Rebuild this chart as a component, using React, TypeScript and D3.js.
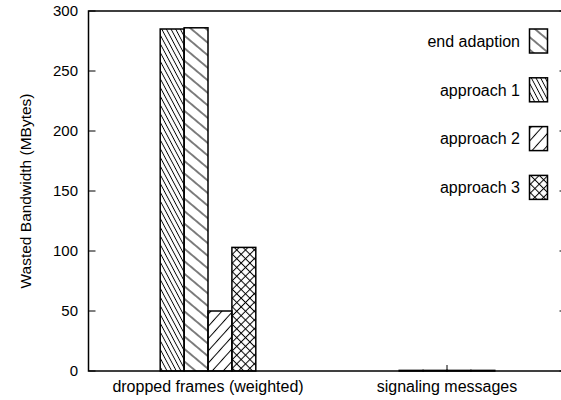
import React from "react";
import * as d3 from "d3";

// Categories along the x axis
const categories = ["dropped frames (weighted)", "signaling messages"];

// Series in legend order, with their values per category
const seriesNames = ["end adaption", "approach 1", "approach 2", "approach 3"];
const droppedFrames = [286, 285, 50, 103];
const signalingMessages = [0.5, 0.5, 0.5, 0.5];

// Order in which the series' bars sit inside each category cluster
const barOrder = ["approach 1", "end adaption", "approach 2", "approach 3"];

// Y axis ticks
const yTicks = [0, 50, 100, 150, 200, 250, 300];

const W = 561;
const H = 400;
const FONT = "'Liberation Sans', Arial, Helvetica, sans-serif";

const patternIds: Record<string, string> = {
  "end adaption": "hatch-end",
  "approach 1": "hatch-a1",
  "approach 2": "hatch-a2",
  "approach 3": "hatch-a3",
};

function valueOf(series: string, cat: number): number {
  const i = seriesNames.indexOf(series);
  return cat === 0 ? droppedFrames[i] : signalingMessages[i];
}

export default function App() {
  const y = d3.scaleLinear().domain([0, 300]).range([371, 11]);
  const x = d3.scaleLinear().domain([-0.5, 1.5]).range([88.5, 566.5]);
  const barW = 0.1; // in category units
  const x0 = x.range()[0];
  const x1 = x.range()[1];
  const yTop = y(300);
  const yBot = y(0);
  const tick = 7;

  const legendRowY = (i: number) => 41 + i * 48.8;

  return (
    <svg
      width={W}
      height={H}
      style={{ position: "absolute", left: 0, top: 0, background: "#fff" }}
      fontFamily={FONT}
    >
      <defs>
        <pattern
          id="hatch-end"
          width={9.6}
          height={9.6}
          patternUnits="userSpaceOnUse"
          patternTransform="rotate(40)"
        >
          <line x1={-1} y1={4.8} x2={10.6} y2={4.8} stroke="#000" strokeWidth={1} />
        </pattern>
        <pattern
          id="hatch-a1"
          width={4.1}
          height={4.1}
          patternUnits="userSpaceOnUse"
          patternTransform="rotate(62)"
        >
          <line x1={-1} y1={2.05} x2={5.1} y2={2.05} stroke="#000" strokeWidth={0.9} />
        </pattern>
        <pattern
          id="hatch-a2"
          width={8.2}
          height={8.2}
          patternUnits="userSpaceOnUse"
          patternTransform="rotate(-48)"
        >
          <line x1={-1} y1={4.1} x2={9.2} y2={4.1} stroke="#000" strokeWidth={1} />
        </pattern>
        <pattern
          id="hatch-a3"
          width={6.2}
          height={6.2}
          patternUnits="userSpaceOnUse"
          patternTransform="rotate(45)"
        >
          <line x1={-1} y1={3.1} x2={7.2} y2={3.1} stroke="#000" strokeWidth={1} />
          <line x1={3.1} y1={-1} x2={3.1} y2={7.2} stroke="#000" strokeWidth={1} />
        </pattern>
      </defs>

      {/* bars */}
      {categories.map((_, ci) =>
        barOrder.map((s, bi) => {
          const v = valueOf(s, ci);
          const left = x(ci - 0.2 + bi * barW);
          const right = x(ci - 0.2 + (bi + 1) * barW);
          return (
            <rect
              key={`${ci}-${s}`}
              x={left}
              y={y(v)}
              width={right - left}
              height={y(0) - y(v)}
              fill={`url(#${patternIds[s]})`}
              stroke="#000"
              strokeWidth={1.5}
            />
          );
        })
      )}

      {/* frame */}
      <rect
        x={x0}
        y={yTop}
        width={x1 - x0}
        height={yBot - yTop}
        fill="none"
        stroke="#000"
        strokeWidth={1.5}
      />

      {/* y ticks, both sides */}
      {yTicks.map((t) => (
        <g key={t}>
          <line x1={x0} x2={x0 + tick} y1={y(t)} y2={y(t)} stroke="#000" strokeWidth={1} />
          <line x1={x1} x2={x1 - tick} y1={y(t)} y2={y(t)} stroke="#000" strokeWidth={1} />
          <text
            x={78}
            y={y(t)}
            dy="0.36em"
            textAnchor="end"
            fontSize={15}
            fill="#000"
          >
            {t}
          </text>
        </g>
      ))}

      {/* x ticks and category labels */}
      {categories.map((c, ci) => (
        <g key={c}>
          <line x1={x(ci)} x2={x(ci)} y1={yBot} y2={yBot - 6} stroke="#000" strokeWidth={1} />
          <text x={x(ci)} y={392} textAnchor="middle" fontSize={16} fill="#000">
            {c}
          </text>
        </g>
      ))}

      {/* y axis title */}
      <text
        transform={`translate(31, ${(yTop + yBot) / 2}) rotate(-90)`}
        textAnchor="middle"
        fontSize={15.5}
        fill="#000"
      >
        Wasted Bandwidth (MBytes)
      </text>

      {/* legend */}
      {seriesNames.map((s, i) => (
        <g key={s}>
          <text
            x={520}
            y={legendRowY(i)}
            dy="0.36em"
            textAnchor="end"
            fontSize={16}
            fill="#000"
          >
            {s}
          </text>
          <rect
            x={529.5}
            y={legendRowY(i) - 12}
            width={18}
            height={24}
            fill={`url(#${patternIds[s]})`}
            stroke="#000"
            strokeWidth={1.5}
          />
        </g>
      ))}
    </svg>
  );
}
